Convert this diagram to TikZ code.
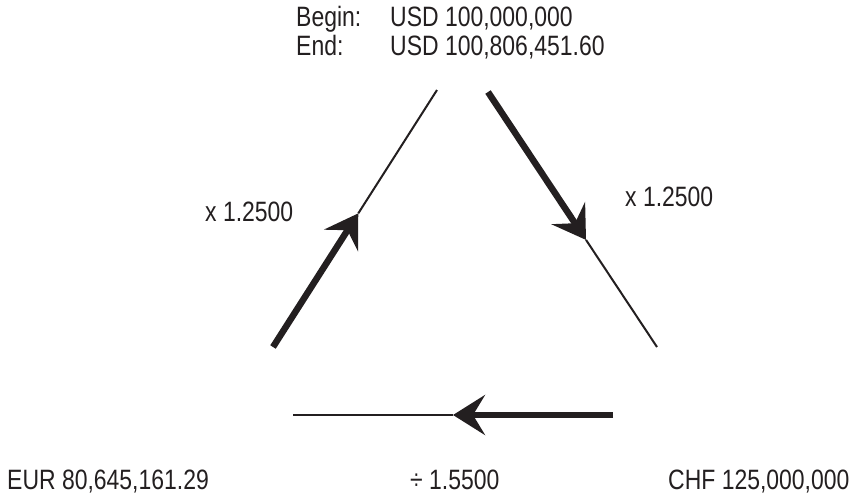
\documentclass[tikz,border=0pt]{standalone}
\usepackage{fontspec}
\setmainfont{Liberation Sans}[FakeStretch=0.82]
\usetikzlibrary{arrows.meta, calc}

\definecolor{inchiostro}{HTML}{231F20}

\tikzset{
  spesso/.style={line width=6.5pt,inchiostro},
  sottile/.style={line width=2pt,inchiostro},
  freccia/.style={-{Stealth[length=32pt,width=40pt,inset=12pt]}},
  testo/.style={anchor=base west,inner sep=0pt,text=inchiostro},
}

\begin{document}
\begin{tikzpicture}[x=1pt,y=-1pt,font=\fontsize{28}{30}\selectfont]
\useasboundingbox (0,0) rectangle (865,499);

% --- Estremi dei lati
\coordinate (sxA) at (273,347);
\coordinate (sxB) at (437,90);
\coordinate (dxA) at (488,92);
\coordinate (dxB) at (657,347);
\coordinate (inA) at (613,415);
\coordinate (inB) at (293,415);

% --- Punte delle frecce
\coordinate (sxP) at ($(sxA)!0.52!(sxB)$);
\coordinate (dxP) at ($(dxA)!0.58!(dxB)$);
\coordinate (inP) at ($(inA)!0.50!(inB)$);

% --- Lati: tratto spesso fino alla punta, poi sottile
\draw[spesso,freccia] (sxA) -- (sxP);
\draw[sottile] (sxP) -- (sxB);
\draw[spesso,freccia] (dxA) -- (dxP);
\draw[sottile] (dxP) -- (dxB);
\draw[spesso,freccia] (inA) -- (inP);
\draw[sottile] (inP) -- (inB);

% --- Testi
\node[testo] (begin) at (296,26) {Begin:};
\node[testo] (usdB) at (390,26) {USD 100,000,000};
\node[testo] (end) at (296,55) {End:};
\node[testo] (usdE) at (390,55) {USD 100,806,451.60};

\node[testo] (fattsx) at (205,221) {x 1.2500};
\node[testo] (fattdx) at (625,206) {x 1.2500};

\node[testo] (eur) at (7,489) {EUR 80,645,161.29};
\node[testo] (div) at (410,489) {÷ 1.5500};
\node[testo] (chf) at (668,489) {CHF 125,000,000};

\end{tikzpicture}
\end{document}
